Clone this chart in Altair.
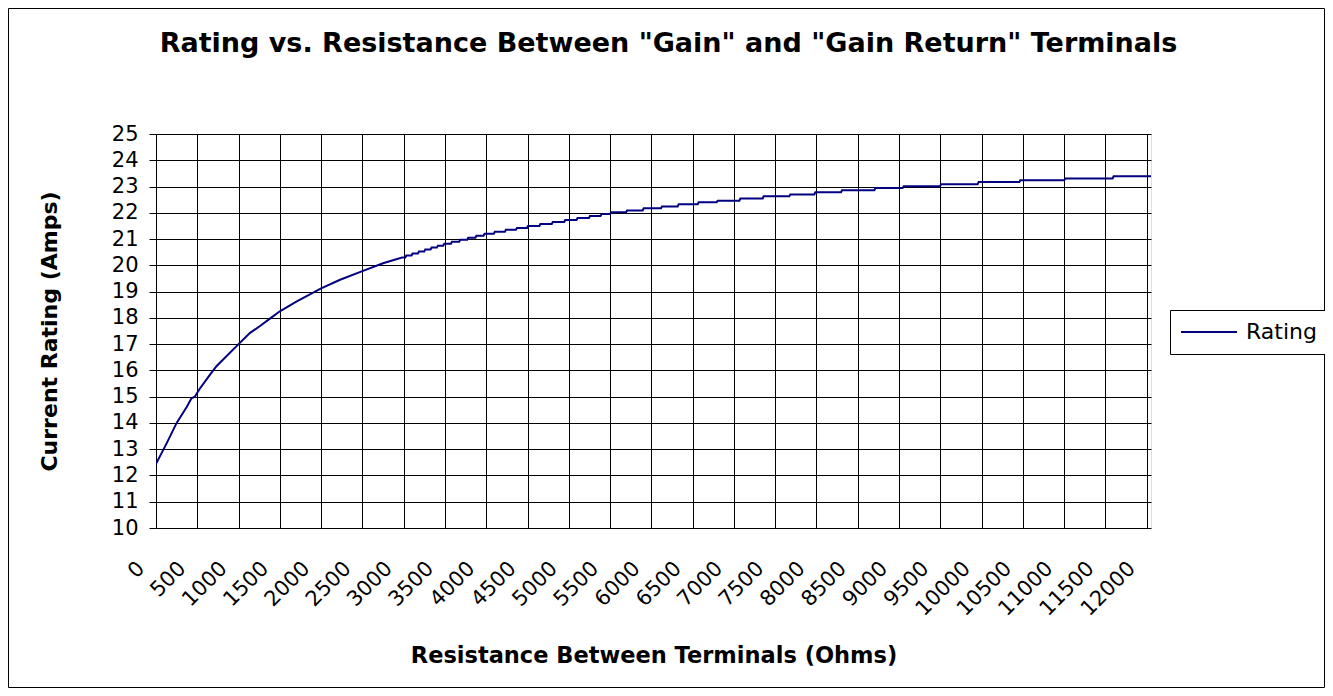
import altair as alt
import pandas as pd

# Smooth (steep) part of the curve
curve_ohms = [0, 130, 250, 370, 430, 470, 530, 650, 735, 1000, 1140, 1260, 1380,
              1500, 1700, 2000, 2230, 2500, 2750, 2980]
curve_amps = [12.44, 13.23, 14.0, 14.6, 14.94, 15.0, 15.3, 15.82, 16.17, 17.0, 17.43,
              17.69, 17.97, 18.25, 18.62, 19.12, 19.45, 19.78, 20.08, 20.30]

# Stair-step part: resistance where the rating steps up, and the new level
step_ohms = [3026, 3102, 3179, 3255, 3332, 3408, 3485, 3579, 3678, 3776, 3875, 3974,
             4098, 4232, 4366, 4500, 4650, 4800, 4950, 5100, 5250, 5390, 5506, 5700,
             5901, 6123, 6325, 6567, 6797, 7072, 7354, 7677, 7980, 8303, 8707, 9050,
             9503, 9958, 10463, 11008, 11593]
step_amps = [20.375, 20.45, 20.525, 20.60, 20.675, 20.75, 20.825, 20.90, 20.975, 21.05,
             21.125, 21.20, 21.275, 21.35, 21.425, 21.50, 21.575, 21.65, 21.725, 21.80,
             21.875, 21.95, 22.02, 22.09, 22.17, 22.24, 22.33, 22.40, 22.46, 22.54,
             22.63, 22.70, 22.78, 22.86, 22.94, 23.01, 23.09, 23.17, 23.24, 23.31, 23.39]
last_ohms = 12052

x_ticks = [0, 500, 1000, 1500, 2000, 2500, 3000, 3500, 4000, 4500, 5000, 5500, 6000,
           6500, 7000, 7500, 8000, 8500, 9000, 9500, 10000, 10500, 11000, 11500, 12000]
y_ticks = [10, 11, 12, 13, 14, 15, 16, 17, 18, 19, 20, 21, 22, 23, 24, 25]

series_name = "Rating"

rows = [{"ohms": o, "amps": a, "series": series_name} for o, a in zip(curve_ohms, curve_amps)]
prev = curve_amps[-1]
for o, a in zip(step_ohms, step_amps):
    rows.append({"ohms": o - 6, "amps": prev, "series": series_name})
    rows.append({"ohms": o + 6, "amps": a, "series": series_name})
    prev = a
rows.append({"ohms": last_ohms, "amps": prev, "series": series_name})
df = pd.DataFrame(rows)

FONT = "DejaVu Sans"

line = alt.Chart(df).mark_line(strokeWidth=2, clip=True).encode(
    x=alt.X(
        "ohms:Q",
        scale=alt.Scale(domain=[0, last_ohms], nice=False, zero=False),
        axis=alt.Axis(
            values=x_ticks, format="d", labelAngle=315, labelAlign="right",
            labelBaseline="middle", labelOffset=-15, labelPadding=37,
            ticks=False, tickSize=0, domain=False,
            grid=True, gridColor="black", gridWidth=1, gridOpacity=1,
            labelFont=FONT, labelFontSize=21, labelColor="black",
            labelOverlap=False, labelFlush=False,
            title="Resistance Between Terminals (Ohms)", titleFont=FONT,
            titleFontSize=22.5, titleFontWeight="bold", titleColor="black",
            titleY=134, titleBaseline="alphabetic",
        ),
    ),
    y=alt.Y(
        "amps:Q",
        scale=alt.Scale(domain=[10, 25], nice=False, zero=False),
        axis=alt.Axis(
            values=y_ticks, tickSize=7, tickColor="black", tickWidth=1,
            domain=False, grid=True, gridColor="black", gridWidth=1, gridOpacity=1,
            labelFont=FONT, labelFontSize=21, labelColor="black", labelPadding=11,
            labelOverlap=False,
            title="Current Rating (Amps)", titleFont=FONT, titleFontSize=22,
            titleFontWeight="bold", titleColor="black", titleAngle=270,
            titleX=-100, titleY=197, titleBaseline="alphabetic", titleAlign="center",
        ),
    ),
    color=alt.Color(
        "series:N",
        scale=alt.Scale(range=["#000080"]),
        legend=alt.Legend(
            title=None, orient="none", legendX=1014, legendY=176,
            strokeColor="black", fillColor="white", padding=10, clipHeight=24,
            symbolType="stroke", symbolSize=3136, symbolStrokeWidth=2,
            labelFont=FONT, labelFontSize=22, labelColor="black", labelOffset=8,
        ),
    ),
)

border = alt.Chart(pd.DataFrame({"k": [0]})).mark_rect(
    filled=False, stroke="black", strokeWidth=1
).encode(
    x=alt.value(-147.5), x2=alt.value(1168.5),
    y=alt.value(-125.5), y2=alt.value(553.5),
)

chart = alt.layer(line, border).properties(
    width=995,
    height=394,
    autosize=alt.AutoSizeParams(type="none"),
    padding={"left": 148, "top": 126, "right": 174, "bottom": 160},
    title=alt.TitleParams(
        text='Rating vs. Resistance Between "Gain" and "Gain Return" Terminals',
        font=FONT, fontSize=27, fontWeight="bold", color="black",
        anchor="middle", dx=15, offset=-50,
    ),
).configure_view(
    fill="#C0C0C0", stroke="#808080", strokeWidth=2
).configure(background="white")

chart.save("out.html", embed_options={"renderer": "svg", "actions": False})
